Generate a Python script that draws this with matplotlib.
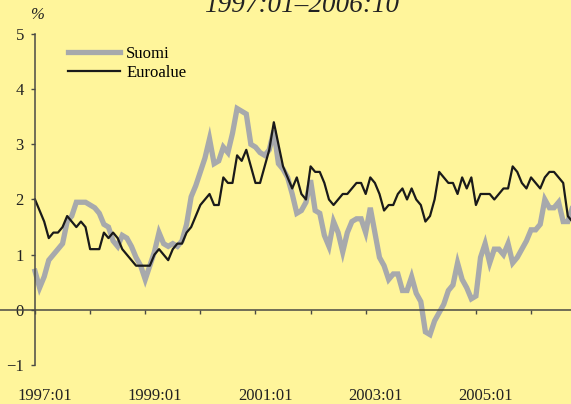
import numpy as np
import matplotlib
matplotlib.use("Agg")
import matplotlib.pyplot as plt

# monthly inflation, 1997:01 - 2006:10
suomi = [0.7, 0.4, 0.6, 0.9, 1.0, 1.1, 1.2, 1.6, 1.7, 1.95, 1.95, 1.95,
         1.9, 1.85, 1.75, 1.55, 1.5, 1.25, 1.15, 1.35, 1.3, 1.15, 0.95, 0.8,
         0.55, 0.8, 1.05, 1.4, 1.2, 1.15, 1.2, 1.15, 1.25, 1.55, 2.05, 2.25,
         2.5, 2.75, 3.1, 2.65, 2.7, 2.95, 2.85, 3.2, 3.65, 3.6, 3.55, 3.0,
         2.95, 2.85, 2.8, 2.9, 3.25, 2.65, 2.55, 2.4, 2.1, 1.75, 1.8, 1.95,
         2.35, 1.8, 1.75, 1.35, 1.15, 1.6, 1.4, 1.05, 1.4, 1.6, 1.65, 1.65,
         1.4, 1.85, 1.4, 0.95, 0.8, 0.55, 0.65, 0.65, 0.35, 0.35, 0.6, 0.3,
         0.15, -0.4, -0.45, -0.2, -0.05, 0.1, 0.35, 0.45, 0.85, 0.55, 0.4, 0.2,
         0.25, 0.95, 1.2, 0.85, 1.1, 1.1, 1.0, 1.2, 0.85, 0.95, 1.1, 1.25,
         1.45, 1.45, 1.55, 2.0, 1.85, 1.85, 1.95, 1.6, 1.6, 1.85]
euroalue = [2.0, 1.8, 1.6, 1.3, 1.4, 1.4, 1.5, 1.7, 1.6, 1.5, 1.6, 1.5,
            1.1, 1.1, 1.1, 1.4, 1.3, 1.4, 1.3, 1.1, 1.0, 0.9, 0.8, 0.8,
            0.8, 0.8, 1.0, 1.1, 1.0, 0.9, 1.1, 1.2, 1.2, 1.4, 1.5, 1.7,
            1.9, 2.0, 2.1, 1.9, 1.9, 2.4, 2.3, 2.3, 2.8, 2.7, 2.9, 2.6,
            2.3, 2.3, 2.6, 2.9, 3.4, 3.0, 2.6, 2.4, 2.2, 2.4, 2.1, 2.0,
            2.6, 2.5, 2.5, 2.3, 2.0, 1.9, 2.0, 2.1, 2.1, 2.2, 2.3, 2.3,
            2.1, 2.4, 2.3, 2.1, 1.8, 1.9, 1.9, 2.1, 2.2, 2.0, 2.2, 2.0,
            1.9, 1.6, 1.7, 2.0, 2.5, 2.4, 2.3, 2.3, 2.1, 2.4, 2.2, 2.4,
            1.9, 2.1, 2.1, 2.1, 2.0, 2.1, 2.2, 2.2, 2.6, 2.5, 2.3, 2.2,
            2.4, 2.3, 2.2, 2.4, 2.5, 2.5, 2.4, 2.3, 1.7, 1.6]
years = list(range(1997, 2007))
year_labels = ["1997:01", "1999:01", "2001:01", "2003:01", "2005:01"]
title = "1997:01\u20132006:10"

BG = "#FFF59B"; AX = "#4a4a44"
plt.rcParams['font.family'] = ['Liberation Serif', 'DejaVu Serif']

months = np.arange(len(suomi))
fig = plt.figure(figsize=(5.71, 4.04), dpi=100, facecolor=BG)
ax = fig.add_axes([0, 0, 1, 1], facecolor=BG)
ax.plot(months, suomi, color="#A7A9AC", lw=3.8, solid_joinstyle="miter", label="Suomi")
ax.plot(months, euroalue, color="#1a1a1a", lw=1.6, label="Euroalue")

ax.set_xlim(-35/4.593, 536/4.593)
ax.set_ylim(-1.707, 5.616)
for s in ("top", "right"): ax.spines[s].set_visible(False)
ax.spines["left"].set_position(("data", 0)); ax.spines["left"].set_bounds(-1, 5)
ax.spines["bottom"].set_position(("data", 0))
for s in ("left", "bottom"):
    ax.spines[s].set_color(AX); ax.spines[s].set_linewidth(1.1)
ax.set_yticks(range(-1, 6))
ax.tick_params(axis="y", direction="out", length=3, width=1, color=AX, pad=5,
               labelsize=12, labelcolor="#222222")
ax.set_xticks([12*(y-1997) for y in years])
ax.tick_params(axis="x", direction="out", length=3, width=1, color=AX, labelbottom=False)
for lab in year_labels:
    xi = 12*(int(lab[:4])-1997) + 2.1
    ax.text(xi, -1.565, lab, ha="center", va="center", fontsize=12, color="#222222")

ax.text(0.5, 5.34, "%", ha="center", va="center", fontsize=12, style="italic", color="#222222")
fig.text(302/571, 1-12/404, title, ha="center", va="baseline", fontsize=19.5,
         style="italic", color="#222222")

ax.legend(loc="upper left", bbox_to_anchor=(68/571, 1-46/404), frameon=False,
          fontsize=12, handlelength=3.1, handletextpad=0.4, labelspacing=0.2,
          borderpad=0, borderaxespad=0)

fig.savefig("out.png", dpi=100, facecolor=BG)
